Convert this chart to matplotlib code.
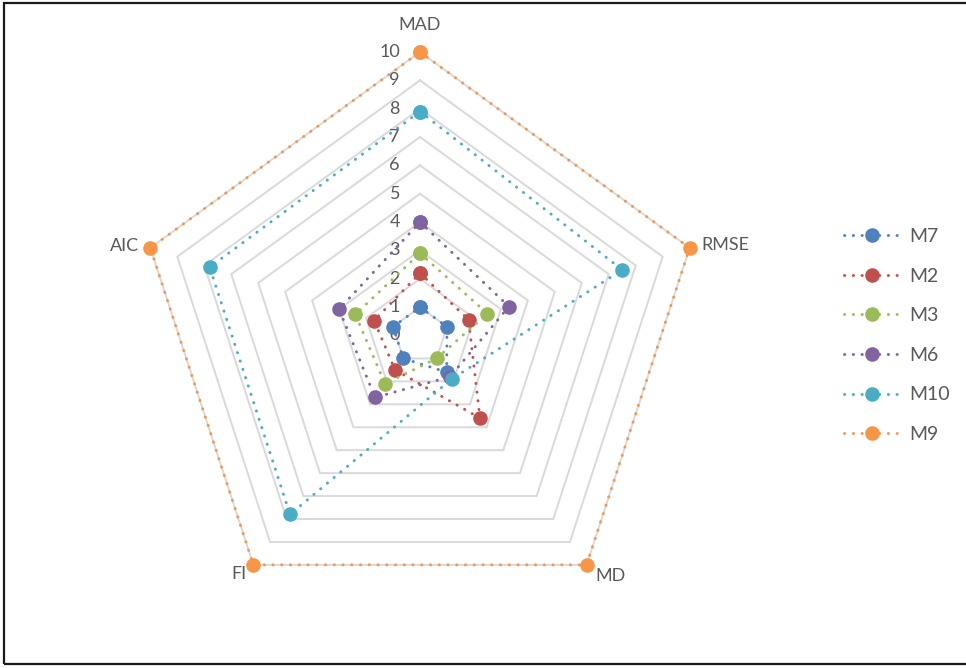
import numpy as np
import matplotlib
matplotlib.use("Agg")
import matplotlib.pyplot as plt
from matplotlib.patches import Rectangle

plt.rcParams['font.family'] = ['Lato', 'DejaVu Sans']

# Radar axes (clockwise from the top)
categories = ["MAD", "RMSE", "MD", "FI", "AIC"]

# Scores per model on each axis
series_names = ["M7", "M2", "M3", "M6", "M10", "M9"]
m7 = [1.0, 1.0, 1.6, 1.0, 1.0]
m2 = [2.2, 1.8, 3.6, 1.5, 1.7]
m3 = [2.9, 2.5, 1.0, 2.1, 2.4]
m6 = [4.0, 3.3, 1.8, 2.7, 3.0]
m10 = [7.9, 7.5, 1.9, 7.8, 7.8]
m9 = [10.0, 10.0, 10.0, 10.0, 10.0]
series_values = [m7, m2, m3, m6, m10, m9]
series_colors = ["#4F81BD", "#C0504D", "#9BBB59", "#8064A2", "#4BACC6", "#F79646"]

tick_values = list(range(0, 11))

W, H = 966, 668
fig = plt.figure(figsize=(W / 100, H / 100), dpi=100)

cx, cy, R = 420, 335.5, 283.5
ax = fig.add_axes([(cx - R) / W, (H - cy - R) / H, 2 * R / W, 2 * R / H], projection='polar')
ax.set_theta_zero_location('N')
ax.set_theta_direction(-1)
ax.set_ylim(0, 10)
ax.grid(False)
ax.set_xticks([])
ax.set_yticks([])
ax.spines['polar'].set_visible(False)
ax.patch.set_alpha(0)

n = len(categories)
angles = np.arange(n) * 2 * np.pi / n
closed_angles = np.append(angles, angles[0])

# Pentagon gridlines
for level in tick_values[1:]:
    ax.plot(closed_angles, [level] * (n + 1), color="#D9D9D9", lw=1.4, zorder=1,
            solid_joinstyle='miter')

dot_style = (0, (0.1, 2.9))

# Model series
handles = []
for i, (name, vals, col) in enumerate(zip(series_names, series_values, series_colors)):
    v = np.append(vals, vals[0])
    line, = ax.plot(closed_angles, v, color=col, lw=2.1, linestyle=dot_style,
                    dash_capstyle='round', marker='o', ms=10.5, mew=0,
                    label=name, zorder=3 + i, clip_on=False)
    handles.append(line)

# Value scale along the MAD axis
for t in tick_values:
    ax.annotate(str(t), xy=(0, t), xytext=(-20, 0), textcoords='offset pixels',
                ha='right', va='center', fontsize=13, color="#595959",
                annotation_clip=False, zorder=2)

# Axis names at the outer vertices
label_offsets = {
    "MAD": ((0, 27), 'center', 'center'),
    "RMSE": ((12, 3), 'left', 'center'),
    "MD": ((9, -11), 'left', 'center'),
    "FI": ((-7, -9), 'right', 'center'),
    "AIC": ((-11, 2), 'right', 'center'),
}
for ang, cat in zip(angles, categories):
    off, ha, va = label_offsets[cat]
    ax.annotate(cat, xy=(ang, 10), xytext=off, textcoords='offset pixels',
                ha=ha, va=va, fontsize=13, color="#595959", annotation_clip=False)

fig.legend(handles=handles, labels=series_names, loc='center left',
           bbox_to_anchor=(826 / W, 1 - 335.5 / H), frameon=False, fontsize=14,
           handlelength=2.95, handletextpad=0.45, labelspacing=1.16, numpoints=1,
           labelcolor="#595959")

# Chart border
fig.patches.append(Rectangle((4 / W, (H - 664) / H), 1.0, 661 / H, transform=fig.transFigure,
                             fill=False, edgecolor="#1a1a1a", lw=1.6, zorder=10))

fig.savefig("out.png", dpi=100)
